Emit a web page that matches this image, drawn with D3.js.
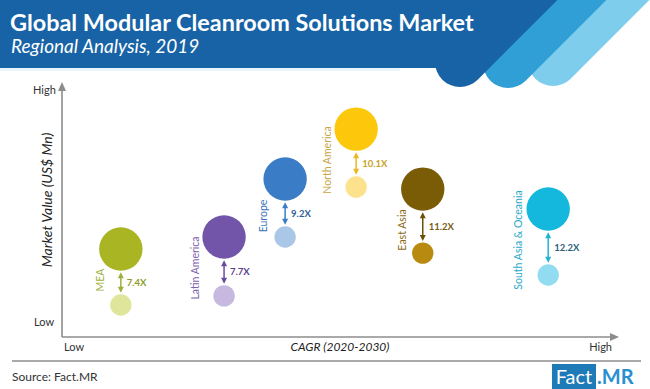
<!DOCTYPE html>
<html><head><meta charset="utf-8">
<script src="https://cdn.jsdelivr.net/npm/d3@7"></script>
<style>html,body{margin:0;padding:0;background:#fff;}svg{display:block;}</style>
</head><body>
<script>
// ---- data ----
const regions = ["MEA", "Latin America", "Europe", "North America", "East Asia", "South Asia & Oceania"];
const cagrIndex = [10.6, 29.2, 40.2, 53.0, 65.0, 87.6];      // relative CAGR position (Low..High)
const value2019 = [12.7, 16.3, 39.7, 59.5, 33.3, 24.6];      // relative market value, 2019 (small bubble)
const value2030 = [34.9, 39.7, 62.7, 82.5, 58.7, 50.8];      // relative market value, 2030 (large bubble)
const growthLabels = ["7.4X", "7.7X", "9.2X", "10.1X", "11.2X", "12.2X"];
const xAxisLabels = ["Low", "High"];
const yAxisLabels = ["Low", "High"];

// ---- styles / layout ----
const bigColors   = ["#a9b522", "#7254a8", "#3a7cc5", "#fdc70c", "#7a5b06", "#13b8dc"];
const smallColors = ["#dfe69b", "#c6b8de", "#abc7e7", "#fde28e", "#b98a10", "#92dcf2"];
const arrowColors = ["#9fb03a", "#6a4aa0", "#3a7cc5", "#ebb824", "#6b5008", "#22b3d3"];
const growthColors= ["#8c9c2c", "#5b3f8c", "#2f5f98", "#c9a12a", "#7a5a12", "#2b5f7c"];
const nameColors  = ["#9fb03a", "#7a62b0", "#3a72b5", "#c9a544", "#8a6c1a", "#2ba9c9"];
const nameDx = [-21, -29, -22, -29, -21, -30];   // label offset from bubble centre (px)
const nameCy = [280, 268, 216, 160, 230, 240];   // label centre (px)

const W = 650, H = 389;
const svg = d3.select("body").append("svg").attr("width", W).attr("height", H);
const FONT = "Lato, 'Open Sans', sans-serif";

// ---- header ----
const hdr = svg.append("g");
const stripes = [
  {c:"#7fcdec", cx:553, cy:61},
  {c:"#2f9fd6", cx:508, cy:63},
  {c:"#1763a6", cx:460, cy:62}
];
stripes.forEach(s => {
  const r = 25, L = 200;
  hdr.append("line").attr("x1", s.cx).attr("y1", s.cy).attr("x2", s.cx + L).attr("y2", s.cy - L)
    .attr("stroke", s.c).attr("stroke-width", 2*r).attr("stroke-linecap", "round");
  hdr.append("path").attr("d", `M0,0 L${s.cx+s.cy},0 L${s.cx},${s.cy} L0,${s.cy} Z`).attr("fill", s.c);
});
hdr.append("rect").attr("x", 0).attr("y", 0).attr("width", 470).attr("height", 68).attr("fill", "#1763a6");
hdr.append("rect").attr("x", 0).attr("y", 68).attr("width", 400).attr("height", 3).attr("fill", "#e8f6fb");

svg.append("text").attr("x", 10).attr("y", 31).attr("fill", "#fff").attr("font-family", FONT)
  .attr("font-weight", 700).attr("font-size", 23.4).text("Global Modular Cleanroom Solutions Market");
svg.append("text").attr("x", 11).attr("y", 53).attr("fill", "#fff").attr("font-family", FONT)
  .attr("font-style", "italic").attr("font-size", 19).text("Regional Analysis, 2019");

// ---- scales ----
const x = d3.scaleLinear().domain([0, 100]).range([62, 617]);
const y = d3.scaleLinear().domain([0, 100]).range([337, 85]);
const rBig = 21.7, rSmall = 10.7;

// axes
const axisG = svg.append("g");
axisG.append("line").attr("x1", x(0)).attr("y1", y(0)).attr("x2", x(0)).attr("y2", y(100)+4)
  .attr("stroke", "#8c8c8c").attr("stroke-width", 1.6);
axisG.append("path").attr("d", `M${x(0)-4},${y(100)+6} L${x(0)},${y(100)-3} L${x(0)+4},${y(100)+6} Z`).attr("fill", "#8c8c8c");
axisG.append("line").attr("x1", x(0)).attr("y1", y(0)).attr("x2", x(100)-4).attr("y2", y(0))
  .attr("stroke", "#8c8c8c").attr("stroke-width", 1.6);
axisG.append("path").attr("d", `M${x(100)-7},${y(0)-4} L${x(100)+2},${y(0)} L${x(100)-7},${y(0)+4} Z`).attr("fill", "#8c8c8c");

const lbl = (tx, ty, t, o={}) => svg.append("text").attr("x", tx).attr("y", ty).text(t)
  .attr("font-family", FONT).attr("font-size", o.size || 11).attr("fill", o.fill || "#333")
  .attr("text-anchor", o.anchor || "start").attr("font-style", o.italic ? "italic" : null);
lbl(33, 94, yAxisLabels[1]);
lbl(34, 326, yAxisLabels[0]);
lbl(64, 351, xAxisLabels[0]);
lbl(612, 351, xAxisLabels[1], {anchor:"end"});
lbl(340, 351, "CAGR (2020-2030)", {anchor:"middle", italic:true, size:12, fill:"#222"});
svg.append("text").attr("transform", `translate(52,200) rotate(-90)`).attr("text-anchor", "middle")
  .attr("font-family", FONT).attr("font-style", "italic").attr("font-size", 14).attr("fill", "#222")
  .text("Market Value (US$ Mn)");

// ---- bubbles ----
const data = regions.map((r, i) => ({r, i, cx: cagrIndex[i], v0: value2019[i], v1: value2030[i]}));
const g = svg.append("g");
data.forEach(d => {
  const cx = x(d.cx), yb = y(d.v1), ys = y(d.v0), i = d.i;
  g.append("circle").attr("cx", cx).attr("cy", yb).attr("r", rBig).attr("fill", bigColors[i]);
  g.append("circle").attr("cx", cx).attr("cy", ys).attr("r", rSmall).attr("fill", smallColors[i]);
  const top = yb + rBig + 1.5, bot = ys - rSmall - 1.5, ac = arrowColors[i];
  g.append("line").attr("x1", cx).attr("y1", top + 4).attr("x2", cx).attr("y2", bot - 4)
    .attr("stroke", ac).attr("stroke-width", 1.5);
  g.append("path").attr("d", `M${cx-3},${top+6} L${cx},${top} L${cx+3},${top+6} Z`).attr("fill", ac);
  g.append("path").attr("d", `M${cx-3},${bot-6} L${cx},${bot} L${cx+3},${bot-6} Z`).attr("fill", ac);
  const mid = (top + bot) / 2;
  g.append("text").attr("x", cx + 6).attr("y", mid + 3.5).text(growthLabels[i])
    .attr("font-family", FONT).attr("font-weight", 700).attr("font-size", 9.5).attr("fill", growthColors[i]);
  g.append("text").attr("transform", `translate(${cx + nameDx[i] + 4},${nameCy[i]}) rotate(-90)`)
    .attr("text-anchor", "middle").attr("font-family", FONT).attr("font-size", 10.5)
    .attr("fill", nameColors[i]).text(d.r);
});

// ---- footer ----
svg.append("line").attr("x1", 12).attr("x2", 641).attr("y1", 361).attr("y2", 361).attr("stroke", "#555").attr("stroke-width", 1.2);
lbl(12, 381, "Source: Fact.MR", {size:12, fill:"#333"});
svg.append("rect").attr("x", 552).attr("y", 364).attr("width", 44).attr("height", 25).attr("fill", "#1f7ab8");
svg.append("text").attr("x", 574).attr("y", 384).attr("text-anchor", "middle").attr("font-family", FONT)
  .attr("font-size", 20).attr("fill", "#fff").text("Fact");
svg.append("text").attr("x", 597).attr("y", 384).attr("font-family", FONT).attr("font-weight", 700)
  .attr("font-size", 20).attr("fill", "#2a8fd0").text(".MR");
</script>
</body></html>
